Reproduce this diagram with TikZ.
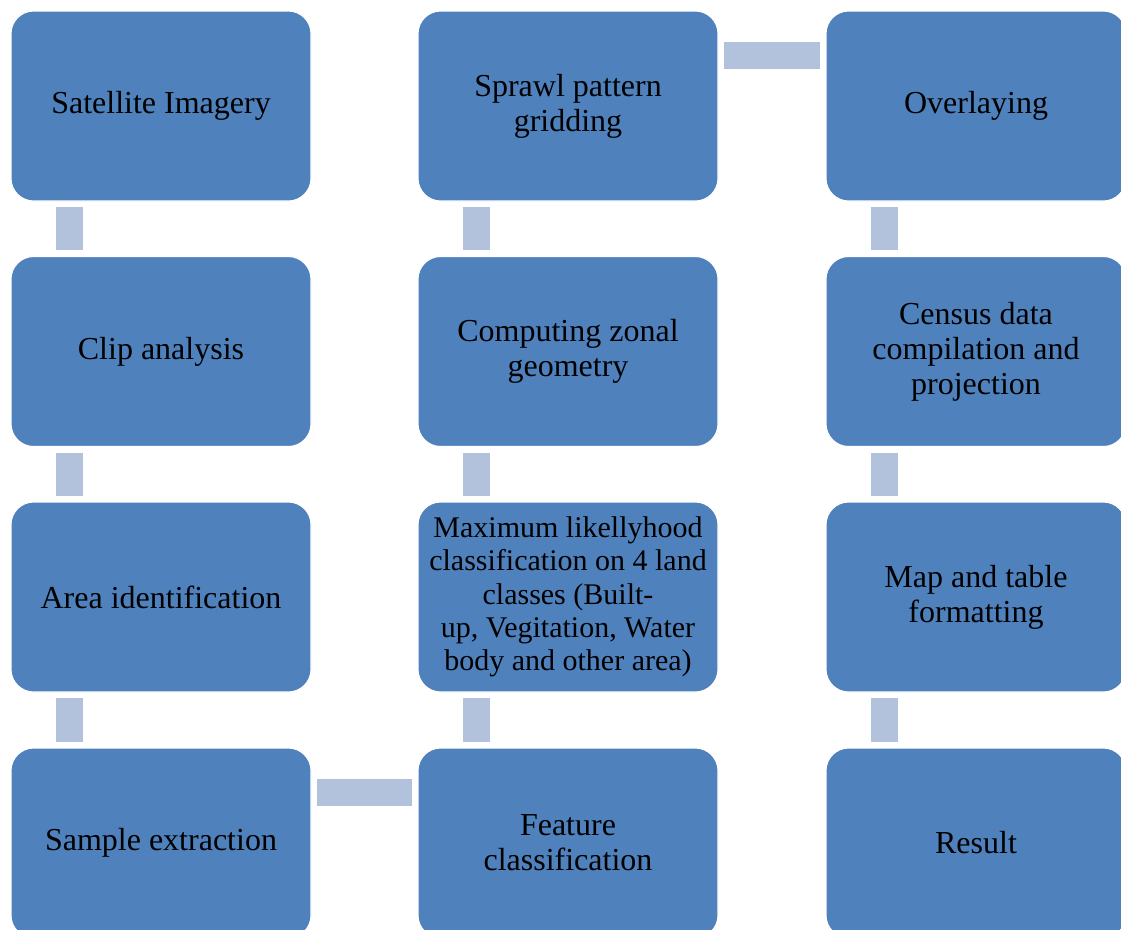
\documentclass[tikz,border=0pt]{standalone}
\usepackage{fontspec}
\setmainfont{Liberation Serif}
\definecolor{boxblue}{HTML}{4F81BD}
\definecolor{connblue}{HTML}{B2C1DC}
\begin{document}
\begin{tikzpicture}[x=0.75pt,y=-0.75pt,
  box/.style={rectangle, rounded corners=17pt, fill=boxblue, draw=white, line width=0.8pt,
    minimum width=225pt, minimum height=142.5pt, inner sep=4pt, align=center, text=black,
    font=\fontsize{24}{26.25}\selectfont},
  smallbox/.style={box, font=\fontsize{22.5}{25}\selectfont},
  conn/.style={draw=connblue, line width=20.5pt, line cap=butt, shorten >=4.2pt, shorten <=4.2pt}]
\useasboundingbox (0,0) rectangle (1121,929);
\fill[white] (0,0) rectangle (1121,929);
\clip (0,0) rectangle (1121,929);
% column 1
\node[box] (sat)  at (161,106)   {Satellite Imagery};
\node[box] (clip) at (161,351.5) {Clip analysis};
\node[box] (area) at (161,597)   {Area identification};
\node[box] (samp) at (161,843)   {Sample extraction};
% column 2
\node[box] (spr)  at (568,106)   {Sprawl pattern\\gridding};
\node[box] (comp) at (568,351.5) {Computing zonal\\geometry};
\node[smallbox] (max) at (568,597) {Maximum likellyhood\\classification on 4 land\\classes (Built-\\up, Vegitation, Water\\body and other area)};
\node[box] (feat) at (568,843)   {Feature\\classification};
% column 3
\node[box] (over) at (976,106)   {Overlaying};
\node[box] (cens) at (976,351.5) {Census data\\compilation and\\projection};
\node[box] (map)  at (976,597)   {Map and table\\formatting};
\node[box] (res)  at (976,843)   {Result};
% connectors
\draw[conn] ([xshift=44.25pt]sat.south west) -- ([xshift=44.25pt]clip.north west);
\draw[conn] ([xshift=44.25pt]clip.south west) -- ([xshift=44.25pt]area.north west);
\draw[conn] ([xshift=44.25pt]area.south west) -- ([xshift=44.25pt]samp.north west);
\draw[conn] ([yshift=-33.6pt]samp.north east) -- ([yshift=-33.6pt]feat.north west);
\draw[conn] ([xshift=44.25pt]feat.north west) -- ([xshift=44.25pt]max.south west);
\draw[conn] ([xshift=44.25pt]max.north west) -- ([xshift=44.25pt]comp.south west);
\draw[conn] ([xshift=44.25pt]comp.north west) -- ([xshift=44.25pt]spr.south west);
\draw[conn] ([yshift=-33.6pt]spr.north east) -- ([yshift=-33.6pt]over.north west);
\draw[conn] ([xshift=44.25pt]over.south west) -- ([xshift=44.25pt]cens.north west);
\draw[conn] ([xshift=44.25pt]cens.south west) -- ([xshift=44.25pt]map.north west);
\draw[conn] ([xshift=44.25pt]map.south west) -- ([xshift=44.25pt]res.north west);
\end{tikzpicture}
\end{document}
